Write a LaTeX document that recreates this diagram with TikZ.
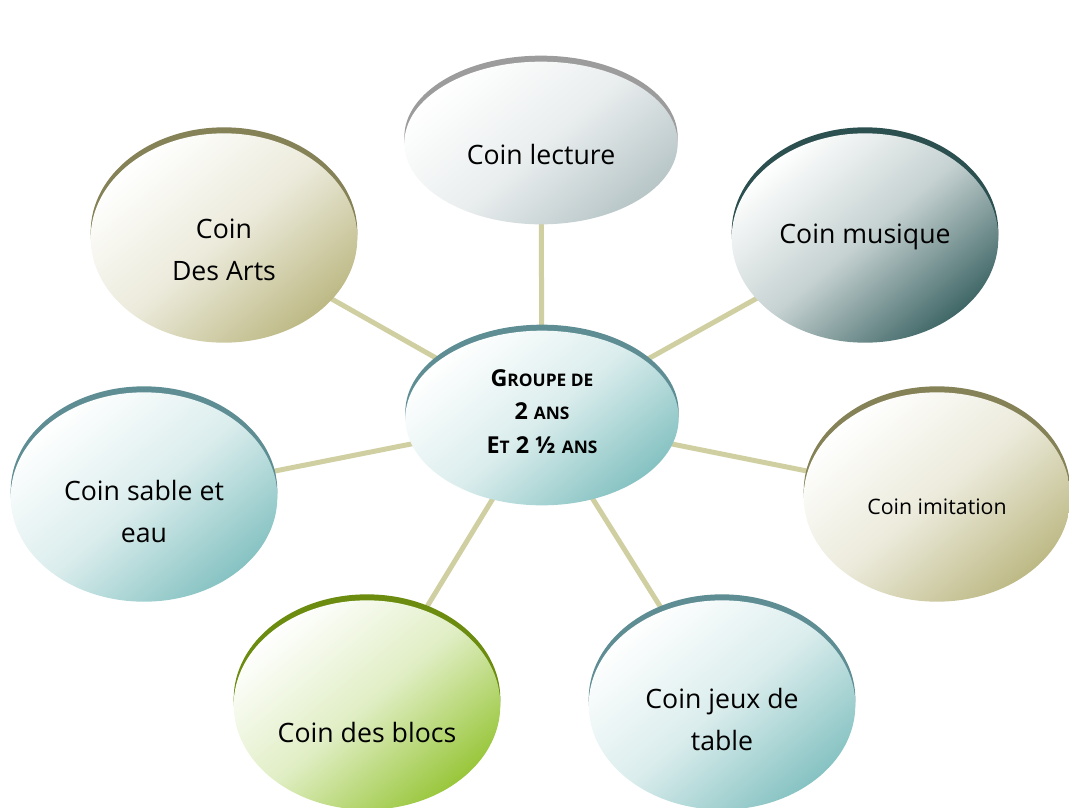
\documentclass[tikz,border=0pt]{standalone}
\usepackage{fontspec}
\setmainfont{Open Sans}
\usetikzlibrary{shapes.geometric, shadows, backgrounds}

\definecolor{lienc}{HTML}{D0CFA2}
\definecolor{grisA}{HTML}{9C9C9C}   \definecolor{grisB}{HTML}{B8C6C8}
\definecolor{ardA}{HTML}{2C4F50}    \definecolor{ardB}{HTML}{3F6666}
\definecolor{oliA}{HTML}{868257}    \definecolor{oliB}{HTML}{BDB985}
\definecolor{turA}{HTML}{5E8E94}    \definecolor{turB}{HTML}{86C2C2}
\definecolor{vertA}{HTML}{6B8C0E}   \definecolor{vertB}{HTML}{98C63A}

\newcommand{\pcap}[1]{{\fontsize{13}{14}\selectfont #1}}
\newcommand{\bas}[1]{\rule{0pt}{#1}}
\newcommand{\remonte}[1]{\rule[-#1]{0pt}{#1}}

\begin{document}
\begin{tikzpicture}[x=0.75pt, y=-0.75pt,
    coin/.style 2 args={ellipse, minimum width=200pt, minimum height=157pt, inner sep=0pt, align=center,
        general shadow={fill=#1, shadow yshift=4.5pt},
        top color=white, bottom color=#2, middle color=#2!30!white, shading angle=40,
        font=\fontsize{20}{31.5}\selectfont},
    lien/.style={draw=lienc, line width=3.75pt}]
    \useasboundingbox (0,0) rectangle (1069,807);

    % noeud central
    \node[coin={turA}{turB}, minimum width=205pt, minimum height=131pt, font=\bfseries\fontsize{17.5}{25}\selectfont]
        (groupe) at (542,418) {G\pcap{ROUPE DE}\\2 \pcap{ANS}\\E\pcap{T} 2 ½ \pcap{ANS}\remonte{10pt}};

    % les coins
    \node[coin={grisA}{grisB}, minimum width=205pt, minimum height=122pt] (lecture) at (541,143) {\bas{33pt}Coin lecture};
    \node[coin={ardA}{ardB}] (musique) at (865,238) {Coin musique\remonte{7pt}};
    \node[coin={oliA}{oliB}] (arts) at (224,238) {\bas{33pt}Coin\\Des Arts};
    \node[coin={turA}{turB}] (sable) at (144,497) {\bas{37pt}Coin sable et\\eau};
    \node[coin={oliA}{oliB}, font=\fontsize{16}{20}\selectfont] (imitation) at (937,497) {\bas{27pt}Coin imitation};
    \node[coin={vertA}{vertB}] (blocs) at (367,705) {\bas{57pt}Coin des blocs};
    \node[coin={turA}{turB}] (jeux) at (722,705) {\bas{37pt}Coin jeux de\\table};

    \begin{pgfonlayer}{background}
        \foreach \coin in {lecture, musique, arts, sable, imitation, blocs, jeux}
            \draw[lien] (groupe.center) -- (\coin.center);
    \end{pgfonlayer}
\end{tikzpicture}
\end{document}
